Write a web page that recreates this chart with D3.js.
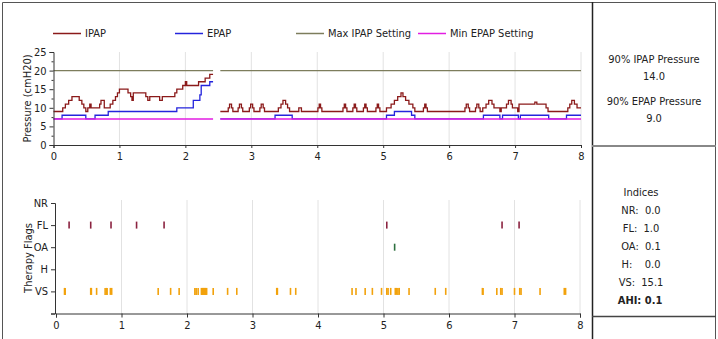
<!DOCTYPE html>
<html>
<head>
<meta charset="utf-8">
<script src="https://cdn.jsdelivr.net/npm/d3@7/dist/d3.min.js"></script>
<style>
  body { margin: 0; background: #fff; }
  svg { display: block; font-family: "DejaVu Sans Condensed", "DejaVu Sans", sans-serif; font-stretch: condensed; }
  text { fill: #222; font-size: 11px; }
</style>
</head>
<body>
<svg id="chart" width="718" height="339"></svg>
<script>
// Pressure over the night (hours since start), step values in cmH2O; null marks the break between sessions
const ipap = [
  [0,9],[0.14,10],[0.18,11],[0.23,12],[0.28,13],[0.39,12],[0.43,11],[0.46,10],[0.49,9],[0.52,10],[0.55,11],[0.57,10],
  [0.70,11],[0.72,12],[0.77,10],[0.86,11],[0.90,12],[0.94,13],[0.97,14],[1.0,15],[1.13,14],[1.17,13],[1.19,12],[1.21,14],
  [1.40,13],[1.43,12],[1.46,13],[1.61,12],[1.65,13],[1.84,14],[1.87,15],[1.96,16],[2.0,17],[2.02,16],[2.2,17],[2.3,18],
  [2.37,19],[2.42,19],[2.42,null],
  [2.53,9],[2.65,10],[2.67,11],[2.70,10],[2.72,9],[2.80,10],[2.82,11],[2.85,10],[2.87,9],[2.97,10],[2.99,11],[3.02,10],[3.04,9],
  [3.13,10],[3.15,11],[3.18,10],[3.20,9],[3.41,10],[3.45,11],[3.48,12],[3.52,11],[3.55,10],[3.58,9],[3.72,10],[3.76,9],
  [4.01,10],[4.03,11],[4.05,10],[4.07,9],[4.39,10],[4.41,11],[4.43,10],[4.45,9],[4.54,10],[4.56,11],[4.58,10],[4.60,9],
  [4.70,10],[4.72,11],[4.74,10],[4.76,9],[4.89,10],[4.91,11],[4.93,10],[4.95,9],[5.05,10],[5.12,11],[5.17,12],[5.22,13],
  [5.27,14],[5.30,13],[5.34,12],[5.39,11],[5.45,10],[5.48,9],[5.61,10],[5.63,11],[5.65,10],[5.67,9],
  [6.24,10],[6.26,11],[6.29,10],[6.31,9],[6.40,10],[6.42,11],[6.45,10],[6.47,9],[6.51,10],[6.56,11],[6.60,12],[6.65,11],
  [6.68,10],[6.77,9],[6.79,10],[6.87,11],[6.90,12],[6.94,11],[6.96,10],[7.04,9],[7.06,11],[7.30,11.5],[7.33,11],[7.47,10],
  [7.50,9],[7.80,10],[7.83,11],[7.86,12],[7.90,11],[7.94,10],[8.0,10]
];
const epap = [
  [0,7],[0.13,8],[0.49,7],[0.63,8],[0.83,9],[1.87,10],[2.12,12],[2.22,13.5],[2.24,16],[2.37,17],[2.42,17],[2.42,null],
  [2.53,7],[3.36,8],[3.62,7],[5.05,8],[5.17,9],[5.43,8],[5.48,7],[6.52,8],[6.77,7],[6.81,8],[7.05,7],[7.08,8],[7.51,7],
  [7.78,8],[8.0,8]
];
const sessions = [[0, 2.42], [2.53, 8]];
const maxIpapSetting = 20;
const minEpapSetting = 7;

// Therapy flag events (hours since start)
const flagCategories = ["VS", "H", "OA", "FL", "NR"];
const flEvents = [0.20, 0.53, 0.84, 1.23, 1.65, 5.05, 6.81, 7.07];
const oaEvents = [5.17];
const hEvents = [];
const nrEvents = [];
const vsEvents = [0.13, 0.14, 0.53, 0.54, 0.62, 0.75, 0.77, 0.78, 0.83, 0.85, 1.56, 1.75, 1.88, 2.12, 2.14, 2.17,
  2.22, 2.23, 2.24, 2.25, 2.26, 2.27, 2.28, 2.29, 2.30, 2.40, 2.62, 2.76, 3.37, 3.38, 3.58, 3.66, 4.52, 4.58, 4.72,
  4.83, 4.97, 5.05, 5.07, 5.11, 5.18, 5.20, 5.22, 5.24, 5.39, 5.79, 5.95, 6.51, 6.52, 6.73, 6.79, 6.81, 7.0, 7.08,
  7.10, 7.39, 7.76, 7.78];

const hourTicks = [0, 1, 2, 3, 4, 5, 6, 7, 8];
const pressureTicks = [0, 5, 10, 15, 20, 25];

const pressureSummary = [["90% IPAP Pressure", "14.0"], ["90% EPAP Pressure", "9.0"]];
const indexLines = ["NR:  0.0", "FL:  1.0", "OA:  0.1", "H:    0.0", "VS:  15.1"];
const ahiLine = "AHI: 0.1";

const colors = { ipap: "#8b1a1a", epap: "#2424dc", maxIpap: "#7d7d5c", minEpap: "#e21ee2",
  fl: "#8b2340", oa: "#2e7040", vs: "#f2a20c" };

const svg = d3.select("#chart");

// Frame and side panel
svg.append("path").attr("d", "M2.5,340 V2.5 H715.5 V340").attr("fill", "none").attr("stroke", "#555").attr("stroke-width", 1);
svg.append("line").attr("x1", 592.5).attr("x2", 592.5).attr("y1", 2).attr("y2", 339).attr("stroke", "#222").attr("stroke-width", 1.5);
svg.append("line").attr("x1", 592).attr("x2", 716).attr("y1", 146).attr("y2", 146).attr("stroke", "#888").attr("stroke-width", 2);
svg.append("line").attr("x1", 592).attr("x2", 716).attr("y1", 316.5).attr("y2", 316.5).attr("stroke", "#444").attr("stroke-width", 1.5);

// ---------- Pressure chart ----------
const xTop = d3.scaleLinear().domain([0, 8]).range([53.5, 581]);
const yTop = d3.scaleLinear().domain([0, 25]).range([145, 52]);

const gTop = svg.append("g");
gTop.selectAll("line.grid").data(hourTicks.slice(1)).join("line")
  .attr("x1", d => xTop(d)).attr("x2", d => xTop(d))
  .attr("y1", yTop(25)).attr("y2", yTop(0))
  .attr("stroke", "#e2e2e2").attr("stroke-width", 1);

const stepLine = (xs, ys) => d3.line()
  .defined(d => d[1] !== null)
  .x(d => xs(d[0])).y(d => ys(d[1]))
  .curve(d3.curveStepAfter);

const settingLine = v => sessions.flatMap(s => [[s[0], v], [s[1], v], [s[1], null]]);

gTop.append("path").datum(settingLine(maxIpapSetting)).attr("d", stepLine(xTop, yTop))
  .attr("fill", "none").attr("stroke", colors.maxIpap).attr("stroke-width", 1.4);
gTop.append("path").datum(ipap).attr("d", stepLine(xTop, yTop))
  .attr("fill", "none").attr("stroke", colors.ipap).attr("stroke-width", 1.3);
gTop.append("path").datum(epap).attr("d", stepLine(xTop, yTop))
  .attr("fill", "none").attr("stroke", colors.epap).attr("stroke-width", 1.3);
gTop.append("path").datum(settingLine(minEpapSetting)).attr("d", stepLine(xTop, yTop))
  .attr("fill", "none").attr("stroke", colors.minEpap).attr("stroke-width", 1.4);

gTop.append("g").attr("transform", `translate(0,${yTop(0)})`)
  .call(d3.axisBottom(xTop).tickValues(hourTicks).tickSize(3).tickPadding(4).tickFormat(d3.format("d")));
gTop.append("g").attr("transform", `translate(${xTop(0)},0)`)
  .call(d3.axisLeft(yTop).tickValues(pressureTicks).tickSize(4).tickPadding(3));
gTop.append("g").attr("transform", `translate(${xTop(0)},0)`)
  .call(d3.axisLeft(yTop).tickValues(d3.range(2.5, 25, 5)).tickSize(2).tickFormat(""))
  .select(".domain").remove();

gTop.append("text").attr("transform", `translate(31,${(yTop(0) + yTop(25)) / 2}) rotate(-90)`)
  .attr("text-anchor", "middle").text("Pressure (cmH20)");

// Legend
const legendItems = [
  { label: "IPAP", color: colors.ipap, x: 53 },
  { label: "EPAP", color: colors.epap, x: 175 },
  { label: "Max IPAP Setting", color: colors.maxIpap, x: 296 },
  { label: "Min EPAP Setting", color: colors.minEpap, x: 418 }
];
const lg = svg.append("g").selectAll("g").data(legendItems).join("g")
  .attr("transform", d => `translate(${d.x},33.5)`);
lg.append("line").attr("x1", 0).attr("x2", 28).attr("stroke", d => d.color).attr("stroke-width", 1.5);
lg.append("text").attr("x", 32).attr("dy", "0.35em").text(d => d.label);

// ---------- Therapy flags chart ----------
const xBot = d3.scaleLinear().domain([0, 8]).range([56, 580]);
const yBot = d3.scaleLinear().domain([0, 5]).range([313.5, 203]);

const gBot = svg.append("g");
gBot.selectAll("line.grid").data(hourTicks.slice(1)).join("line")
  .attr("x1", d => xBot(d)).attr("x2", d => xBot(d))
  .attr("y1", yBot(5) - 3).attr("y2", yBot(0))
  .attr("stroke", "#e2e2e2").attr("stroke-width", 1);

const flagSeries = [
  { cat: "FL", events: flEvents, color: colors.fl },
  { cat: "OA", events: oaEvents, color: colors.oa },
  { cat: "H", events: hEvents, color: colors.vs },
  { cat: "NR", events: nrEvents, color: colors.vs },
  { cat: "VS", events: vsEvents, color: colors.vs }
];
flagSeries.forEach(s => {
  const yc = yBot(flagCategories.indexOf(s.cat) + 1);
  gBot.append("g").selectAll("line").data(s.events).join("line")
    .attr("x1", d => xBot(d)).attr("x2", d => xBot(d))
    .attr("y1", yc - 3.5).attr("y2", yc + 3.5)
    .attr("stroke", s.color).attr("stroke-width", 1.6);
});

gBot.append("g").attr("transform", `translate(0,${yBot(0)})`)
  .call(d3.axisBottom(xBot).tickValues(hourTicks).tickSize(4).tickPadding(4).tickFormat(d3.format("d")));
gBot.append("g").attr("transform", `translate(${xBot(0) - 1},0)`)
  .call(d3.axisLeft(yBot).tickValues([0, 1, 2, 3, 4, 5]).tickSize(4).tickPadding(3)
    .tickFormat(d => d === 0 ? "" : flagCategories[d - 1]));

gBot.append("text").attr("transform", `translate(32,258) rotate(-90)`)
  .attr("text-anchor", "middle").text("Therapy Flags");

svg.selectAll(".domain").attr("stroke", "#333");
svg.selectAll(".tick line").attr("stroke", "#333");
svg.selectAll(".tick text").attr("fill", "#222").style("font-size", "11px")
  .style("font-family", "\"DejaVu Sans Condensed\", \"DejaVu Sans\", sans-serif");

// ---------- Side panel text ----------
const side = svg.append("g").attr("text-anchor", "middle");
pressureSummary.forEach((p, i) => {
  side.append("text").attr("x", 654).attr("y", 63 + i * 42).text(p[0]);
  side.append("text").attr("x", 654).attr("y", 80 + i * 42).text(p[1]);
});
side.append("text").attr("x", 641).attr("y", 196).text("Indices");
indexLines.forEach((t, i) => {
  side.append("text").attr("x", 641).attr("y", 214 + i * 18).attr("xml:space", "preserve")
    .style("white-space", "pre").text(t);
});
side.append("text").attr("x", 640).attr("y", 304).attr("font-weight", "bold")
  .style("white-space", "pre").text(ahiLine);
</script>
</body>
</html>
